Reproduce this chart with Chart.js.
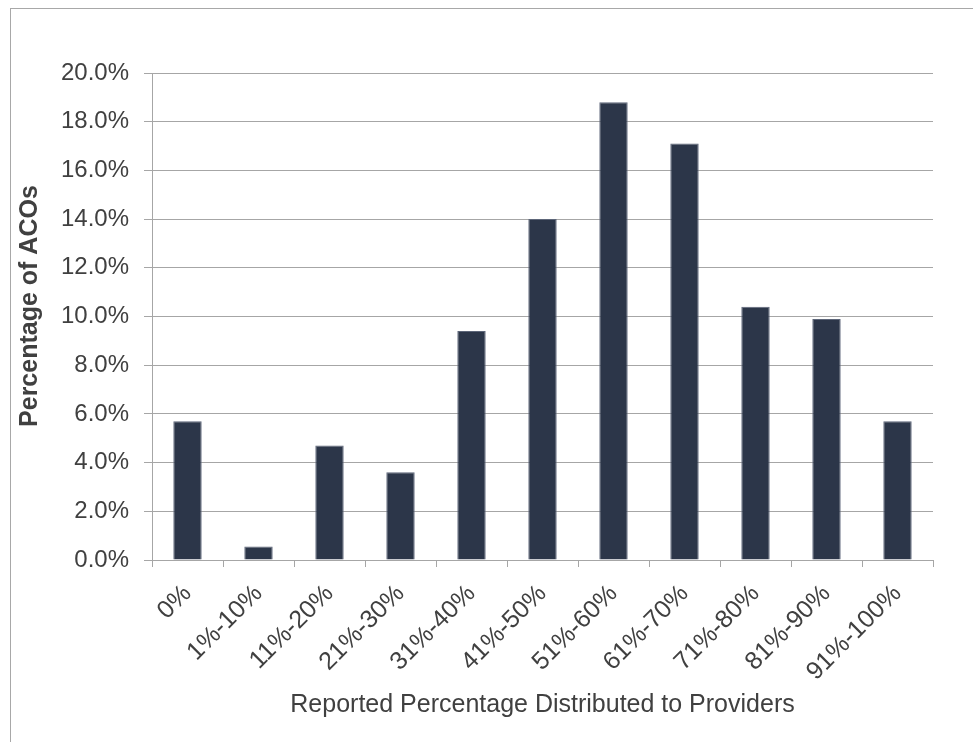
<!DOCTYPE html>
<html>
<head>
<meta charset="utf-8">
<script src="https://cdn.jsdelivr.net/npm/chart.js@4.4.1/dist/chart.umd.min.js"></script>
<style>
  html, body { margin: 0; padding: 0; background: #fff; overflow: hidden; }
  .frame { position: absolute; left: 10px; top: 8px; width: 1000px; height: 800px; border: 1px solid #a8a8a8; }
  .wrap { position: absolute; left: 0; top: 0; width: 973px; height: 742px; }
</style>
</head>
<body>
<div class="frame"></div>
<div class="wrap"><canvas id="acoChart" width="973" height="742"></canvas></div>
<script>
const categories = ['0%', '1%-10%', '11%-20%', '21%-30%', '31%-40%', '41%-50%', '51%-60%', '61%-70%', '71%-80%', '81%-90%', '91%-100%'];
const percentOfAcos = [5.7, 0.55, 4.7, 3.6, 9.4, 14.0, 18.8, 17.1, 10.4, 9.9, 5.7];
const yTicks = [0, 2, 4, 6, 8, 10, 12, 14, 16, 18, 20];

const textColor = '#404040';
const lineColor = '#a6a6a6';
const fontFamily = '"Liberation Sans", Arial, Helvetica, sans-serif';

new Chart(document.getElementById('acoChart').getContext('2d'), {
  type: 'bar',
  data: {
    labels: categories,
    datasets: [
      {
        label: 'Percentage of ACOs',
        data: percentOfAcos,
        backgroundColor: '#2c3649',
        borderColor: '#5d6679',
        borderWidth: 1,
        barPercentage: 0.4,
        categoryPercentage: 1.0,
      },
    ],
  },
  options: {
    responsive: false,
    animation: false,
    devicePixelRatio: 1,
    layout: { padding: { top: 73, right: 40, bottom: 20, left: 10 } },
    plugins: {
      legend: { display: false },
      tooltip: { enabled: false },
    },
    scales: {
      x: {
        offset: true,
        grid: { offset: true, drawOnChartArea: false, drawTicks: true, tickLength: 7, color: lineColor },
        border: { color: lineColor },
        ticks: {
          color: textColor,
          font: { family: fontFamily, size: 25 },
          maxRotation: 45,
          minRotation: 45,
          padding: 12,
          autoSkip: false,
        },
        title: {
          display: true,
          text: 'Reported Percentage Distributed to Providers',
          color: textColor,
          font: { family: fontFamily, size: 25 },
          padding: { top: 0, bottom: 2 },
        },
        afterFit: (s) => { s.height = 162; },
      },
      y: {
        min: 0,
        max: 20,
        afterBuildTicks: (s) => { s.ticks = yTicks.map((v) => ({ value: v })); },
        grid: { color: lineColor, tickLength: 8, lineWidth: 1 },
        border: { color: lineColor },
        ticks: {
          color: textColor,
          font: { family: fontFamily, size: 24 },
          padding: 15,
          callback: (v) => v.toFixed(1) + '%',
        },
        title: {
          display: true,
          text: '   Percentage of ACOs',
          color: textColor,
          font: { family: fontFamily, size: 25, weight: 'bold' },
          padding: { top: 5, bottom: 0 },
        },
        afterFit: (s) => { s.width = 142; },
      },
    },
  },
  plugins: [],
});
</script>
</body>
</html>
